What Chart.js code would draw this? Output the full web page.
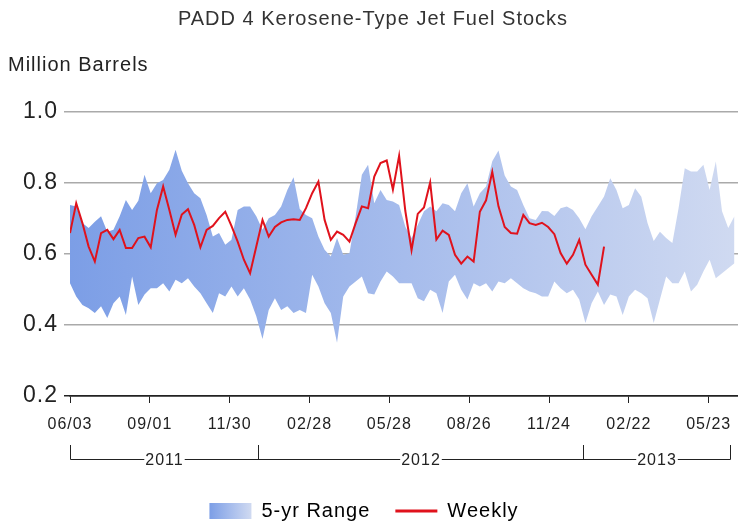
<!DOCTYPE html>
<html>
<head>
<meta charset="utf-8">
<script src="https://cdn.jsdelivr.net/npm/chart.js@4.4.1/dist/chart.umd.min.js"></script>
<style>
  html, body { margin: 0; padding: 0; background: #fff; }
  canvas { display: block; }
</style>
</head>
<body>
<canvas id="chart" width="738" height="524"></canvas>
<script>
// one value per week, starting with the week of 06/03/2011 (million barrels)
var startDate = Date.UTC(2011, 5, 3);

var weekly = [
  0.658, 0.742, 0.686, 0.620, 0.578, 0.658, 0.667, 0.641, 0.667, 0.616,
  0.616, 0.644, 0.648, 0.618, 0.723, 0.789, 0.723, 0.653, 0.710, 0.725,
  0.681, 0.618, 0.667, 0.678, 0.700, 0.718, 0.678, 0.634, 0.583, 0.545,
  0.620, 0.695, 0.648, 0.675, 0.688, 0.695, 0.697, 0.695, 0.728, 0.770,
  0.803, 0.695, 0.639, 0.662, 0.653, 0.634, 0.686, 0.733, 0.728, 0.817,
  0.855, 0.862, 0.780, 0.875, 0.720, 0.610, 0.712, 0.730, 0.800, 0.640,
  0.665, 0.653, 0.597, 0.572, 0.592, 0.578, 0.718, 0.750, 0.830, 0.733,
  0.675, 0.658, 0.656, 0.709, 0.686, 0.681, 0.687, 0.675, 0.655, 0.602,
  0.572, 0.597, 0.639, 0.569, 0.541, 0.513, 0.620
];

// 5-yr range, top and bottom
var rangeMax = [
  0.737, 0.733, 0.686, 0.672, 0.690, 0.705, 0.662, 0.667, 0.705, 0.751,
  0.723, 0.749, 0.822, 0.770, 0.798, 0.807, 0.836, 0.892, 0.833, 0.798,
  0.770, 0.756, 0.709, 0.648, 0.658, 0.625, 0.639, 0.723, 0.733, 0.733,
  0.705, 0.667, 0.700, 0.709, 0.733, 0.779, 0.815, 0.726, 0.709, 0.700,
  0.648, 0.611, 0.592, 0.644, 0.597, 0.601, 0.705, 0.822, 0.850, 0.742,
  0.779, 0.751, 0.747, 0.737, 0.676, 0.644, 0.681, 0.719, 0.733, 0.719,
  0.742, 0.737, 0.719, 0.770, 0.798, 0.733, 0.770, 0.789, 0.860, 0.890,
  0.820, 0.789, 0.779, 0.737, 0.700, 0.695, 0.720, 0.719, 0.706, 0.728,
  0.733, 0.723, 0.700, 0.669, 0.705, 0.733, 0.761, 0.812, 0.779, 0.728,
  0.737, 0.784, 0.760, 0.686, 0.636, 0.662, 0.644, 0.630, 0.728, 0.840,
  0.831, 0.831, 0.850, 0.779, 0.859, 0.719, 0.672, 0.705
];
var rangeMin = [
  0.517, 0.480, 0.456, 0.447, 0.433, 0.452, 0.419, 0.461, 0.480, 0.428,
  0.536, 0.456, 0.485, 0.503, 0.503, 0.517, 0.494, 0.527, 0.517, 0.531,
  0.508, 0.489, 0.461, 0.433, 0.489, 0.480, 0.508, 0.480, 0.503, 0.471,
  0.424, 0.360, 0.442, 0.475, 0.442, 0.452, 0.433, 0.442, 0.433, 0.541,
  0.508, 0.461, 0.433, 0.350, 0.480, 0.508, 0.522, 0.536, 0.489, 0.485,
  0.522, 0.550, 0.536, 0.517, 0.517, 0.517, 0.475, 0.466, 0.499, 0.489,
  0.433, 0.522, 0.541, 0.499, 0.471, 0.517, 0.508, 0.517, 0.494, 0.522,
  0.517, 0.531, 0.517, 0.503, 0.494, 0.489, 0.480, 0.480, 0.522, 0.503,
  0.489, 0.499, 0.471, 0.405, 0.461, 0.494, 0.456, 0.485, 0.480, 0.428,
  0.480, 0.499, 0.489, 0.475, 0.405, 0.471, 0.536, 0.517, 0.517, 0.550,
  0.494, 0.513, 0.550, 0.583, 0.531, 0.545, 0.559, 0.573
];

var tickStep = 90;      // days between date labels
var axisEndDay = 753;
var years = ['2011', '2012', '2013'];
var yearBreaks = [startDate, Date.UTC(2012, 0, 1), Date.UTC(2013, 0, 1), Date.UTC(2013, 5, 16)];

var DAY = 86400000;
var fontFamily = '"Liberation Sans", Arial, sans-serif';
Chart.defaults.font.family = fontFamily;

function dayOf(t) {
  return (t - startDate) / DAY;
}

function toPoints(values) {
  return values.map(function(v, i) {
    return {x: i * 7, y: v};
  });
}

function pad(n) {
  return n < 10 ? '0' + n : '' + n;
}

function mmdd(day) {
  var d = new Date(startDate + day * DAY);
  return pad(d.getUTCMonth() + 1) + '/' + pad(d.getUTCDate());
}

function bandGradient(ctx, x0, x1) {
  var g = ctx.createLinearGradient(x0, 0, x1, 0);
  g.addColorStop(0, '#7c9ee6');
  g.addColorStop(0.5, '#a6bcec');
  g.addColorStop(1, '#d0daf1');
  return g;
}

var legendShift = 9;

var extras = {
  id: 'extras',
  beforeUpdate: function(chart) {
    chart.ctx.letterSpacing = '1px';
  },
  afterUpdate: function(chart) {
    // nudge the legend row a little to the left
    var legend = chart.legend;
    if (!legend) {
      return;
    }
    legend.left -= legendShift;
    legend.right -= legendShift;
    (legend.legendHitBoxes || []).forEach(function(hb) {
      hb.left -= legendShift;
    });
  },
  beforeDraw: function(chart) {
    var ctx = chart.ctx;
    ctx.letterSpacing = '1px';
    ctx.save();
    ctx.fillStyle = '#fff';
    ctx.fillRect(0, 0, chart.width, chart.height);
    ctx.restore();
    // legend swatch gets its own small gradient
    var legend = chart.legend;
    if (legend && legend.legendHitBoxes && legend.legendHitBoxes.length) {
      var hb = legend.legendHitBoxes[0];
      legend.legendItems[0].fillStyle = bandGradient(ctx, hb.left, hb.left + 42);
    }
  },
  afterDraw: function(chart) {
    // year bracket under the date labels
    var ctx = chart.ctx;
    var xs = chart.scales.x;
    var lineY = 459.5, topY = 445;
    var px = yearBreaks.map(function(t) {
      return Math.round(xs.getPixelForValue(dayOf(t))) + 0.5;
    });
    ctx.save();
    ctx.strokeStyle = '#222';
    ctx.lineWidth = 1;
    ctx.beginPath();
    px.forEach(function(p) {
      ctx.moveTo(p, topY);
      ctx.lineTo(p, lineY);
    });
    ctx.moveTo(px[0], lineY);
    ctx.lineTo(px[px.length - 1], lineY);
    ctx.stroke();
    ctx.font = '16px ' + fontFamily;
    ctx.textAlign = 'center';
    ctx.textBaseline = 'middle';
    years.forEach(function(label, i) {
      var cx = (px[i] + px[i + 1]) / 2;
      var w = ctx.measureText(label).width + 2;
      ctx.fillStyle = '#fff';
      ctx.fillRect(cx - w / 2, lineY - 8, w, 16);
      ctx.fillStyle = '#222';
      ctx.fillText(label, cx, lineY + 1);
    });
    ctx.restore();
  }
};

var ctx = document.getElementById('chart').getContext('2d');
var myChart = new Chart(ctx, {
  type: 'line',
  data: {
    datasets: [{
      label: '5-yr Range',
      data: toPoints(rangeMax),
      fill: '+1',
      backgroundColor: function(c) {
        var area = c.chart.chartArea;
        if (!area) {
          return '#a6bcec';
        }
        return bandGradient(c.chart.ctx, area.left, area.right);
      },
      borderColor: 'rgba(0,0,0,0)',
      borderWidth: 0,
      pointRadius: 0,
      tension: 0,
      order: 2
    }, {
      label: 'range min',
      data: toPoints(rangeMin),
      fill: false,
      borderColor: 'rgba(0,0,0,0)',
      borderWidth: 0,
      pointRadius: 0,
      tension: 0,
      order: 2
    }, {
      label: 'Weekly',
      data: toPoints(weekly),
      fill: false,
      borderColor: '#e0121c',
      borderWidth: 2,
      pointRadius: 0,
      tension: 0,
      order: 1
    }]
  },
  options: {
    responsive: false,
    animation: false,
    devicePixelRatio: 1,
    layout: {
      padding: {left: 8, right: 0, top: 0, bottom: -7}
    },
    plugins: {
      title: {
        display: true,
        text: 'PADD 4 Kerosene-Type Jet Fuel Stocks',
        color: '#333',
        font: {size: 20, weight: 'normal'},
        padding: {top: 7, bottom: 11}
      },
      subtitle: {
        display: true,
        text: 'Million Barrels',
        align: 'start',
        color: '#222',
        font: {size: 20},
        padding: {top: 11, bottom: 34.4}
      },
      legend: {
        position: 'bottom',
        labels: {
          color: '#222',
          font: {size: 20},
          usePointStyle: true,
          pointStyleWidth: 42,
          boxHeight: 16,
          padding: 25,
          generateLabels: function(chart) {
            return [{
              text: '5-yr Range',
              fillStyle: '#a6bcec',
              strokeStyle: 'rgba(0,0,0,0)',
              lineWidth: 0,
              pointStyle: 'rect',
              datasetIndex: 0,
              hidden: false
            }, {
              text: 'Weekly',
              fillStyle: '#e0121c',
              strokeStyle: '#e0121c',
              lineWidth: 3,
              pointStyle: 'line',
              datasetIndex: 2,
              hidden: false
            }];
          }
        }
      },
      tooltip: {enabled: false}
    },
    scales: {
      x: {
        type: 'linear',
        min: 0,
        max: axisEndDay,
        afterFit: function(scale) {
          scale.height = 80;
          // let the axis run right to the canvas edge
          scale.paddingLeft = 0;
          scale.paddingRight = 0;
        },
        border: {color: '#222', width: 1.5},
        grid: {drawOnChartArea: false, tickLength: 7, color: '#222'},
        ticks: {
          stepSize: tickStep,
          includeBounds: false,
          autoSkip: false,
          maxRotation: 0,
          padding: 12,
          color: '#222',
          font: {size: 16},
          callback: function(v) {
            return mmdd(v);
          }
        }
      },
      y: {
        min: 0.2,
        max: 1.0,
        afterFit: function(scale) {
          scale.width = 62;
        },
        border: {display: false},
        grid: {
          tickLength: 6,
          lineWidth: 1.5,
          color: function(c) {
            return c.tick && c.tick.value <= 0.2 ? '#222' : '#aaaaaa';
          }
        },
        ticks: {
          stepSize: 0.2,
          padding: 6,
          color: '#222',
          font: {size: 23},
          callback: function(v) {
            return v.toFixed(1);
          }
        }
      }
    }
  },
  plugins: [extras]
});
</script>
</body>
</html>
